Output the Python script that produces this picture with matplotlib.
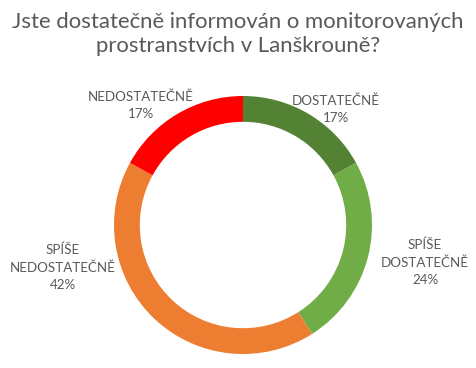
import matplotlib
matplotlib.use("Agg")
import matplotlib.pyplot as plt

categories = ["DOSTATEČNĚ", "SPÍŠE\nDOSTATEČNĚ", "SPÍŠE\nNEDOSTATEČNĚ", "NEDOSTATEČNĚ"]
values = [17, 24, 42, 17]
colors = ["#548235", "#70AD47", "#ED7D31", "#FF0000"]
title = "Jste dostatečně informován o monitorovaných\nprostranstvích v Lanškrouně?"

# label anchor points in figure pixels (Excel placed them by hand)
label_pos = [(336, 109), (425, 262), (63, 267), (141, 105)]

plt.rcParams["font.family"] = ["Lato", "DejaVu Sans"]
W, H = 476, 368
fig = plt.figure(figsize=(W / 100, H / 100), dpi=100)

cx, cy, R = 243, 225, 129
ax = fig.add_axes([(cx - R) / W, (H - cy - R) / H, 2 * R / W, 2 * R / H])
ax.pie(values, colors=colors, startangle=90, counterclock=False,
       radius=1, wedgeprops=dict(width=0.2, linewidth=0))
ax.set_xlim(-1, 1)
ax.set_ylim(-1, 1)
ax.set_aspect("equal")
ax.axis("off")

fig.text(0.5, 1 - 34 / H, title, ha="center", va="center", fontsize=15.9,
         color="#595959", linespacing=1.3)

for cat, v, (x, y) in zip(categories, values, label_pos):
    fig.text(x / W, 1 - y / H, f"{cat}\n{v}%", ha="center", va="center",
             fontsize=9.6, color="#595959", linespacing=1.5)

fig.savefig("out.png", dpi=100)
